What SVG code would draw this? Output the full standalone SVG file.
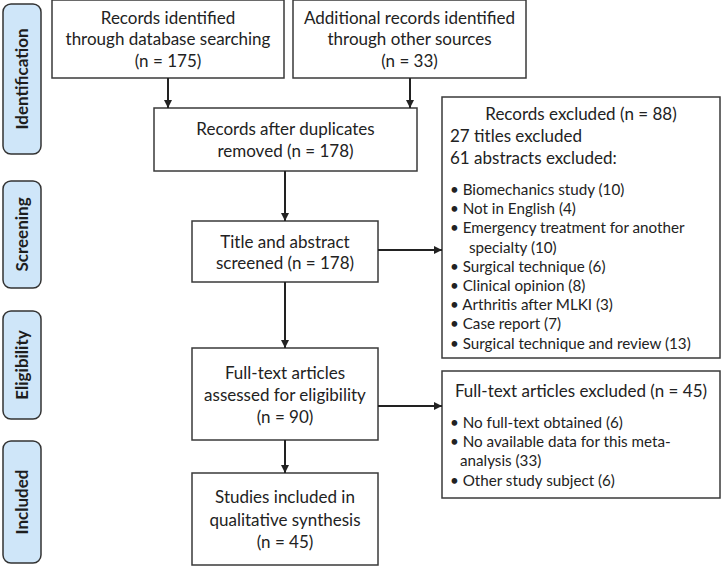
<svg xmlns="http://www.w3.org/2000/svg" width="721" height="566" viewBox="0 0 721 566">
<style>
.bg{fill:#ffffff}
.box{fill:#ffffff;stroke:#3a3a3a;stroke-width:1.5}
.lab{fill:#cfe6f9;stroke:#333333;stroke-width:1.5}
.t{font-family:Lato,"Liberation Sans",sans-serif;font-size:17px;fill:#222222;text-anchor:middle}
.h{font-family:Lato,"Liberation Sans",sans-serif;font-size:17px;fill:#222222}
.l{font-family:Lato,"Liberation Sans",sans-serif;font-size:15.2px;fill:#222222}
.s{font-family:Lato,"Liberation Sans",sans-serif;font-size:17px;font-weight:bold;fill:#1e1e1e;text-anchor:middle}
.c{fill:none;stroke:#222222;stroke-width:2}
</style>
<defs>
<marker id="ah" viewBox="0 0 10 10" refX="10" refY="5" markerWidth="8" markerHeight="8" markerUnits="userSpaceOnUse" orient="auto">
<path d="M0,0 L10,5 L0,10 z" fill="#222222"/>
</marker>
</defs>
<rect class="bg" x="0" y="0" width="721" height="566"/>

<g id="stage-identification">
<rect class="lab" x="3" y="4" width="38" height="150" rx="8"/>
<text class="s" transform="translate(28,79) rotate(-90)">Identification</text>
</g>
<g id="stage-screening">
<rect class="lab" x="3" y="181" width="38" height="107" rx="8"/>
<text class="s" transform="translate(28,234.5) rotate(-90)">Screening</text>
</g>
<g id="stage-eligibility">
<rect class="lab" x="3" y="311" width="38" height="108" rx="8"/>
<text class="s" transform="translate(28,365) rotate(-90)">Eligibility</text>
</g>
<g id="stage-included">
<rect class="lab" x="3" y="441" width="38" height="122" rx="8"/>
<text class="s" transform="translate(28,502) rotate(-90)">Included</text>
</g>

<g id="db-records">
<rect class="box" x="52" y="0" width="232" height="78"/>
<text class="t" x="168" y="23.5">Records identified</text>
<text class="t" x="168" y="45">through database searching</text>
<text class="t" x="168" y="66.5">(n = 175)</text>
</g>
<g id="other-records">
<rect class="box" x="293" y="0" width="233" height="78"/>
<text class="t" x="409.5" y="23.5">Additional records identified</text>
<text class="t" x="409.5" y="45">through other sources</text>
<text class="t" x="409.5" y="66.5">(n = 33)</text>
</g>
<g id="dedup">
<rect class="box" x="154" y="108" width="263" height="63"/>
<text class="t" x="285.5" y="135">Records after duplicates</text>
<text class="t" x="285.5" y="157">removed (n = 178)</text>
</g>
<g id="screened">
<rect class="box" x="192" y="221" width="186" height="61"/>
<text class="t" x="285" y="247.5">Title and abstract</text>
<text class="t" x="285" y="269">screened (n = 178)</text>
</g>
<g id="fulltext">
<rect class="box" x="192" y="348" width="186" height="92"/>
<text class="t" x="285" y="379">Full-text articles</text>
<text class="t" x="285" y="400.5">assessed for eligibility</text>
<text class="t" x="285" y="422.5">(n = 90)</text>
</g>
<g id="included">
<rect class="box" x="192" y="473" width="186" height="92"/>
<text class="t" x="285" y="503">Studies included in</text>
<text class="t" x="285" y="525.5">qualitative synthesis</text>
<text class="t" x="285" y="547.5">(n = 45)</text>
</g>
<g id="excluded-records">
<rect class="box" x="442" y="97" width="278" height="261"/>
<text class="h" x="581" y="120" text-anchor="middle">Records excluded (n = 88)</text>
<text class="h" x="450" y="142">27 titles excluded</text>
<text class="h" x="450" y="164">61 abstracts excluded:</text>
<text class="l" x="450" y="195">• Biomechanics study (10)</text>
<text class="l" x="450" y="214.2">• Not in English (4)</text>
<text class="l" x="450" y="233.4">• Emergency treatment for another</text>
<text class="l" x="469" y="252.6">specialty (10)</text>
<text class="l" x="450" y="271.8">• Surgical technique (6)</text>
<text class="l" x="450" y="291">• Clinical opinion (8)</text>
<text class="l" x="450" y="310.2">• Arthritis after MLKI (3)</text>
<text class="l" x="450" y="329.4">• Case report (7)</text>
<text class="l" x="450" y="348.6">• Surgical technique and review (13)</text>
</g>
<g id="excluded-fulltext">
<rect class="box" x="442" y="371" width="278" height="127"/>
<text class="h" x="581" y="397" text-anchor="middle">Full-text articles excluded (n = 45)</text>
<text class="l" x="450" y="428">• No full-text obtained (6)</text>
<text class="l" x="450" y="447">• No available data for this meta-</text>
<text class="l" x="460" y="466">analysis (33)</text>
<text class="l" x="450" y="486">• Other study subject (6)</text>
</g>

<g id="connectors">
<line class="c" x1="168" y1="78" x2="168" y2="108" marker-end="url(#ah)"/>
<line class="c" x1="410" y1="78" x2="410" y2="108" marker-end="url(#ah)"/>
<line class="c" x1="285" y1="171" x2="285" y2="221" marker-end="url(#ah)"/>
<line class="c" x1="285" y1="282" x2="285" y2="348" marker-end="url(#ah)"/>
<line class="c" x1="285" y1="440" x2="285" y2="473" marker-end="url(#ah)"/>
<line class="c" x1="378" y1="250" x2="442" y2="250" marker-end="url(#ah)"/>
<line class="c" x1="378" y1="406" x2="442" y2="406" marker-end="url(#ah)"/>
</g>
</svg>
